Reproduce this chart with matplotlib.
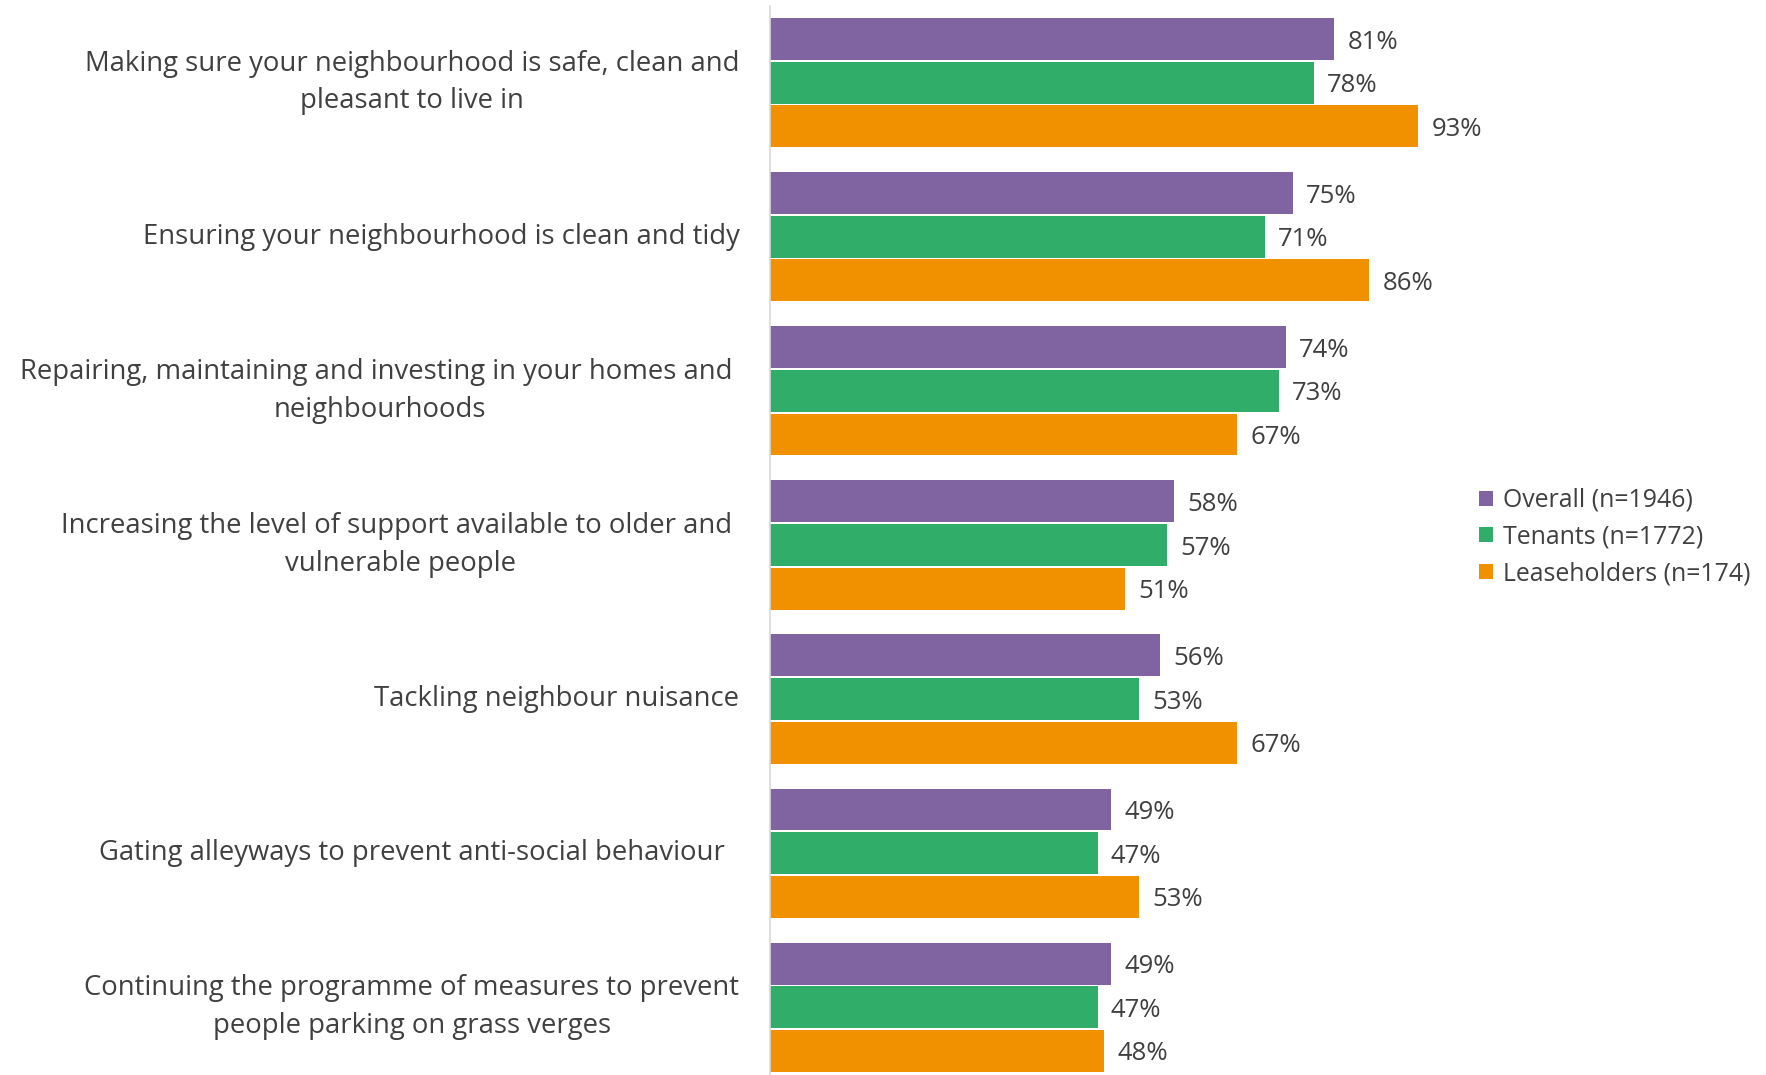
import numpy as np
import matplotlib.pyplot as plt

categories = [
    'Making sure your neighbourhood is safe, clean and\npleasant to live in',
    'Ensuring your neighbourhood is clean and tidy',
    'Repairing, maintaining and investing in your homes and \nneighbourhoods',
    'Increasing the level of support available to older and \nvulnerable people',
    'Tackling neighbour nuisance',
    'Gating alleyways to prevent anti-social behaviour  ',
    'Continuing the programme of measures to prevent\npeople parking on grass verges',
]
series_names = ['Overall (n=1946)', 'Tenants (n=1772)', 'Leaseholders (n=174)']
overall = [81, 75, 74, 58, 56, 49, 49]
tenants = [78, 71, 73, 57, 53, 47, 47]
leaseholders = [93, 86, 67, 51, 67, 53, 48]
colors = ['#8064A2', '#2FAD69', '#F29100']

plt.rcParams['font.family'] = ['Open Sans', 'DejaVu Sans']
text_col = '#404040'

fig = plt.figure(figsize=(17.66, 10.75), dpi=100)
ax = fig.add_axes([0.436, 0.0, 0.3946, 0.9947])

y = np.arange(len(categories))
offs = [-0.283, 0.0, 0.283]
h = 0.272
for vals, off, c, name in zip([overall, tenants, leaseholders], offs, colors, series_names):
    bars = ax.barh(y + off, vals, height=h, color=c, label=name)
    for b, v in zip(bars, vals):
        ax.text(b.get_width() + 1.9, b.get_y() + b.get_height() / 2 + 0.02, f'{v}%',
                va='center', ha='left', fontsize=18.5, color=text_col)

ax.set_xlim(0, 100)
ax.set_ylim(6.44, -0.5)
ax.set_yticks(y)
ax.set_yticklabels(categories, fontsize=19.8, color=text_col,
                   multialignment='center', linespacing=1.45)
for lab in ax.get_yticklabels():
    lab.set_verticalalignment('center')
ax.tick_params(axis='y', length=0, pad=22)
ax.set_xticks([])
for s in ['top', 'right', 'bottom']:
    ax.spines[s].set_visible(False)
ax.spines['left'].set_color('#d9d9d9')
ax.spines['left'].set_linewidth(1.2)

leg = fig.legend(loc='upper left', bbox_to_anchor=(0.825, 0.567), frameon=False,
                 fontsize=17.9, handlelength=0.55, handleheight=0.55, handletextpad=0.4,
                 labelspacing=0.48)
for t in leg.get_texts():
    t.set_color(text_col)

fig.savefig('out.png', dpi=100)
